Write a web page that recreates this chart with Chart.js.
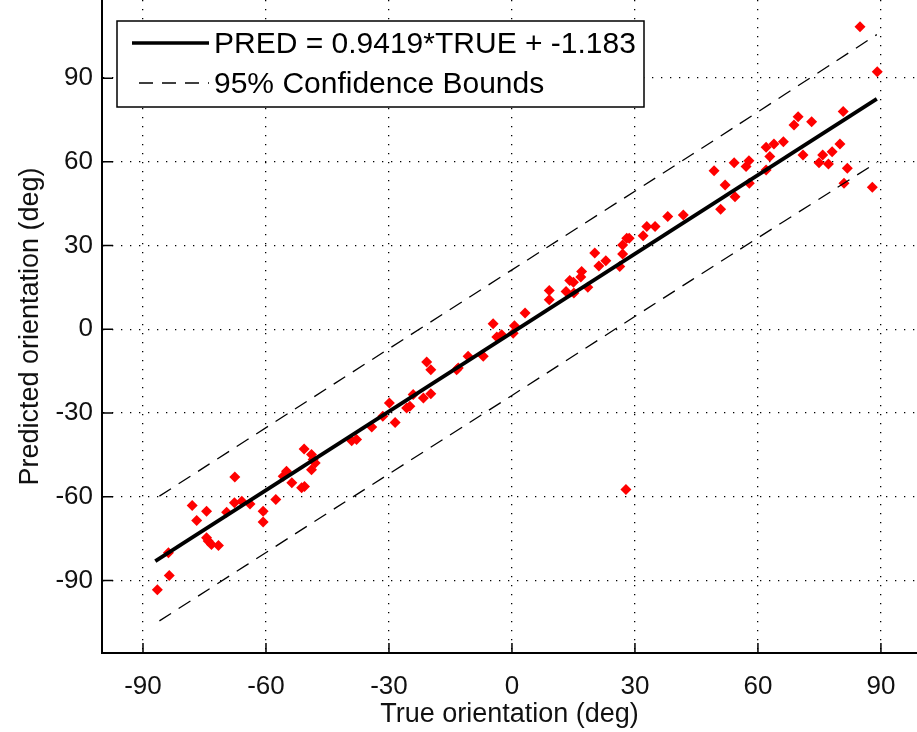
<!DOCTYPE html>
<html>
<head>
<meta charset="utf-8">
<script src="https://cdn.jsdelivr.net/npm/chart.js@4.4.1/dist/chart.umd.min.js"></script>
<style>
  body { margin: 0; background: #fff; overflow: hidden; }
  canvas { display: block; }
</style>
</head>
<body>
<canvas id="fitChart" width="917" height="732"></canvas>
<script>
// orientation pairs (deg)
const trueDeg = [
  -86.5, -83.6, -83.8, -78.0, -76.9, -74.5, -74.5, -74.1, -73.3, -71.6,
  -69.6, -67.7, -67.6, -65.9, -63.9, -60.7, -60.7, -57.6, -55.8, -55.0,
  -53.7, -51.3, -50.6, -50.7, -48.9, -48.5, -48.0, -48.9,
  -39.1, -37.9, -34.2, -31.5, -29.9, -28.5, -25.7, -24.9, -24.1, -21.6,
  -19.8, -20.8, -19.8, -13.5, -13.1, -10.7, -7.0, -4.6, -3.7, -2.5,
  0.3, 0.6, 3.2,
  9.1, 9.1, 13.2, 14.1, 15.0, 15.1, 16.8, 17.0, 18.5, 20.2,
  21.2, 22.9, 26.3, 27.0, 27.0, 28.0, 28.6, 27.8, 32.0, 32.9,
  34.9, 38.0, 41.8,
  49.3, 50.9, 52.0, 54.2, 54.4, 57.1, 57.8, 57.9, 62.0, 62.0,
  62.9, 63.9, 66.2, 68.8, 69.8, 71.0, 73.1, 74.9, 75.8, 77.2,
  78.1, 80.0, 80.8, 81.0, 81.8, 84.9, 87.9, 89.1
];
const predDeg = [
  -93.3, -88.2, -80.1, -63.1, -68.5, -65.2, -74.7, -75.9, -77.1, -77.5,
  -65.6, -62.2, -52.9, -61.6, -62.6, -65.2, -69.1, -61.0, -52.7, -50.9,
  -55.0, -56.8, -56.3, -42.9, -44.9, -46.7, -47.9, -50.3,
  -39.9, -39.5, -35.0, -31.2, -26.4, -33.4, -28.2, -27.6, -23.4, -24.6,
  -23.1, -11.7, -14.5, -14.5, -13.9, -9.7, -9.7, 2.0, -2.8, -2.0,
  -1.4, 1.3, 5.8,
  13.9, 10.6, 13.5, 17.5, 16.9, 13.0, 18.7, 20.7, 15.1, 27.3,
  22.7, 24.6, 22.5, 27.0, 30.2, 32.6, 32.6, -57.4, 33.5, 36.8,
  36.8, 40.4, 41.0,
  56.8, 43.0, 51.7, 59.7, 47.5, 58.3, 60.4, 52.3, 57.1, 65.2,
  61.9, 66.4, 67.2, 73.2, 76.2, 62.5, 74.4, 59.7, 62.5, 59.2,
  63.6, 66.4, 78.0, 52.3, 57.7, 108.4, 50.9, 92.3
];

// fitted line and 95% bounds
const fitX = [-87, 89];
const fitY = [-83.1, 82.6];
const boundX = [-86, -43, 0, 44, 89];
const upperY = [-59.8, -19.2, 21.3, 62.7, 105.6];
const lowerY = [-104.5, -64.0, -23.7, 17.8, 59.8];

const tickVals = [-90, -60, -30, 0, 30, 60, 90];
const fitLabel = 'PRED = 0.9419*TRUE + -1.183';
const boundLabel = '95% Confidence Bounds';

const pairs = (xs, ys) => xs.map((v, i) => ({ x: v, y: ys[i] }));
const FONT = "'Liberation Sans', Arial, sans-serif";

// matlab style: ticks pointing into the plot
const inwardTicks = {
  id: 'inwardTicks',
  afterDatasetsDraw(chart) {
    const { ctx, chartArea: a, scales: { x, y } } = chart;
    ctx.save();
    ctx.strokeStyle = '#000';
    ctx.lineWidth = 1.5;
    ctx.beginPath();
    tickVals.forEach(v => {
      const px = x.getPixelForValue(v);
      ctx.moveTo(px, a.bottom);
      ctx.lineTo(px, a.bottom - 10);
      const py = y.getPixelForValue(v);
      ctx.moveTo(a.left, py);
      ctx.lineTo(a.left + 11, py);
    });
    ctx.stroke();
    ctx.restore();
  }
};

// boxed legend in the upper left corner
const boxLegend = {
  id: 'boxLegend',
  afterDraw(chart) {
    const ctx = chart.ctx;
    const sets = chart.data.datasets;
    ctx.save();
    ctx.fillStyle = '#fff';
    ctx.fillRect(117, 21, 527, 86);
    ctx.strokeStyle = '#000';
    ctx.lineWidth = 1.5;
    ctx.strokeRect(117, 21, 527, 86);

    ctx.lineWidth = 3.5;
    ctx.beginPath();
    ctx.moveTo(132, 43);
    ctx.lineTo(209, 43);
    ctx.stroke();

    ctx.lineWidth = 1.3;
    ctx.setLineDash([14, 9]);
    ctx.beginPath();
    ctx.moveTo(139, 83);
    ctx.lineTo(209, 83);
    ctx.stroke();
    ctx.setLineDash([]);

    ctx.fillStyle = '#000';
    ctx.font = '30px ' + FONT;
    ctx.textBaseline = 'middle';
    ctx.fillText(sets[0].label, 214, 45);
    ctx.fillText(sets[1].label, 214, 85);
    ctx.restore();
  }
};

const gridOpts = {
  color: '#000',
  lineWidth: 1.3,
  drawTicks: false
};

new Chart(document.getElementById('fitChart').getContext('2d'), {
  data: {
    datasets: [
      {
        type: 'line',
        label: fitLabel,
        data: pairs(fitX, fitY),
        borderColor: '#000',
        borderWidth: 3.8,
        pointRadius: 0
      },
      {
        type: 'line',
        label: boundLabel,
        data: pairs(boundX, upperY),
        borderColor: '#000',
        borderWidth: 1.3,
        borderDash: [14, 9],
        pointRadius: 0,
        tension: 0.2
      },
      {
        type: 'line',
        label: 'lower',
        data: pairs(boundX, lowerY),
        borderColor: '#000',
        borderWidth: 1.3,
        borderDash: [14, 9],
        pointRadius: 0,
        tension: 0.2
      },
      {
        type: 'scatter',
        label: 'data',
        data: pairs(trueDeg, predDeg),
        pointStyle: 'rectRot',
        pointRadius: 5.5,
        backgroundColor: '#ff0000',
        borderColor: '#ff0000',
        borderWidth: 0
      }
    ]
  },
  options: {
    responsive: false,
    animation: false,
    layout: { padding: 0, autoPadding: false },
    plugins: {
      legend: { display: false },
      tooltip: { enabled: false }
    },
    scales: {
      x: {
        type: 'linear',
        min: -100,
        max: 98.8,
        afterBuildTicks: s => { s.ticks = tickVals.map(v => ({ value: v })); },
        afterFit: s => {
          s.height = 79;
          s.paddingLeft = 0;
          s.paddingRight = 0;
        },
        grid: gridOpts,
        border: { display: true, color: '#000', width: 2, dash: [1.3, 7.7] },
        ticks: { color: '#111', padding: 18, font: { family: FONT, size: 26 } },
        title: {
          display: true,
          text: 'True orientation (deg)',
          color: '#111',
          font: { family: FONT, size: 27 },
          padding: { top: 0, bottom: 1 }
        }
      },
      y: {
        type: 'linear',
        min: -116,
        max: 118,
        afterBuildTicks: s => { s.ticks = tickVals.map(v => ({ value: v })); },
        afterFit: s => {
          s.width = 102;
          s.paddingTop = 0;
          s.paddingBottom = 0;
        },
        grid: gridOpts,
        border: { display: true, color: '#000', width: 2, dash: [1.3, 7.7] },
        ticks: { color: '#111', padding: 9, font: { family: FONT, size: 26 } },
        title: {
          display: true,
          text: 'Predicted orientation (deg)',
          color: '#111',
          font: { family: FONT, size: 27 },
          padding: { top: 14, bottom: 0 }
        }
      }
    }
  },
  plugins: [inwardTicks, boxLegend]
});
</script>
</body>
</html>
